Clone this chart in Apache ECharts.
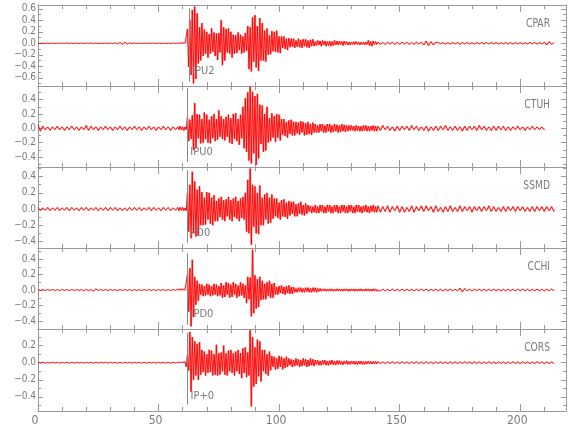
<!DOCTYPE html>
<html><head><meta charset="utf-8">
<script src="https://cdn.jsdelivr.net/npm/echarts@6/dist/echarts.min.js"></script>
<style>html,body{margin:0;padding:0;background:#fff}#c{width:580px;height:440px}</style>
</head><body><div id="c"></div>
<script>
// ---------- data ----------
const stations = ['CPAR','CTUH','SSMD','CCHI','CORS'];
const pickLabels = ['IPU2','IPU0','PD0','IPD0','IP+0'];
const pickTimes = [62.6, 61.9, 61.9, 62.0, 62.0];
const xMajorTicks = [0,50,100,150,200];
const xMinorTicks = [10,20,30,40,60,70,80,90,110,120,130,140,160,170,180,190,210];
const yRanges = [[-0.743,0.666],[-0.540,0.590],[-0.481,0.519],[-0.503,0.542],[-0.565,0.394]];
const yMajorTicks = [
  [-0.6,-0.4,-0.2,0,0.2,0.4,0.6],
  [-0.4,-0.2,0,0.2,0.4],
  [-0.4,-0.2,0,0.2,0.4],
  [-0.4,-0.2,0,0.2,0.4],
  [-0.4,-0.2,0,0.2]
];
const yMinorTicks = [
  [-0.7,-0.5,-0.3,-0.1,0.1,0.3,0.5],
  [-0.5,-0.3,-0.1,0.1,0.3,0.5],
  [-0.3,-0.1,0.1,0.3,0.5],
  [-0.3,-0.1,0.1,0.3,0.5],
  [-0.5,-0.3,-0.1,0.1,0.3]
];
// phase-pick line extents and label heights (data units)
const pickTop = [0.61,0.56,0.48,0.47,0.35];
const pickBottom = [-0.67,-0.47,-0.42,-0.45,-0.49];
const pickLabelY = [-0.49,-0.33,-0.30,-0.31,-0.386];

const preStart = 0, preStep = 1;      // 0 .. 57 s
const mainStart = 58, mainStep = 0.5; // 58 .. 140.5 s
const postStart = 141, postStep = 1;  // 141 .. end
// amplitudes in hundredths
const cparPre = [0.5,-0.5,0.4,-0.5,0.5,-0.4,0.5,-0.5,0.4,-0.5,
 0.5,-0.4,0.5,-0.5,0.4,-0.5,0.5,-0.4,0.5,-0.5,
 0.4,-0.5,0.5,-0.4,0.5,-0.5,0.4,-0.5,0.5,-0.4,
 0.5,-0.5,0.6,-0.8,1.5,-2,2,-1.5,0.8,-0.5,
 0.5,-0.4,0.5,-0.5,0.4,-0.5,0.5,-0.4,0.5,-0.5,
 0.4,-0.5,0.5,-0.4,0.5,-0.5,0.4,-0.5];
const cparMain = [0.5,-0.5,0.5,-1,0.5,-0.5,1,-1,
 25,-41,40,
 -55,58,-70,64,-62,52,
 -35,28,-30,35,-22,
 24,-18,20,-25,16,-18,26,-15,19,
 -22,17,-29,18,-16,
 40,-38,28,-30,
 25,-16,26,-18,20,-25,15,
 -18,14,-17,19,-12,15,-18,12,-16,18,-13,
 30,-45,28,-49,
 45,-32,49,-42,30,-48,44,-30,35,
 -30,22,-32,26,
 -20,14,-19,21,-14,20,-15,22,-16,12,-17,
 12,-8,12,-10,8,-12,9,-7,
 8,-6,8,-8,5,-6,8,-7,6,-8,7,-5,7,-7,5,-8,6,-5,7,
 -5,3,-4,5,-3,4,-5,5,-3,4,-5,3,-4,4,-5,3,-4,5,-3,4,-3,4,-2,3,-4,4,-2,3,
 -3,2,-3,2,-2,3,-2,3,-2,2,-3,2,-2,2,-3,2,-2,
 5,-4,3,-5,4,-2,3,-2];
const cparPost = [2,-2,1.5,-2,2,-1.5,2,-2,1.5,-2,2,-1.5,2,-2,1.5,-2,2,-1.5,2,
 -3,4,-4,3,-3,2,
 1.5,-1.2,1.4,-1.5,1.2,-1.4,1.5,-1.2,1.3,-1.5,1.2,-1.4,1.5,-1.3,1.2,-1.5,1.4,-1.2,1.5,-1.3,
 1.2,-1.4,1.5,-1.2,1.4,-1.5,1.2,-1.3,1.5,-1.4,1.2,-1.5,1.3,-1.2,1.4,-1.5,1.2,-1.3,1.5,-1.2,
 1.4,-1.5,1.2,-1.3,
 2,-3,3,-2,1];

const ctuhPre = [5,-4,3,-2,2,-3,2,-2,3,-2,
 2,-3,2,-2,3,-2,2,-3,2,-2,
 4,-3,3,-2,2,-3,2,-2,3,-2,
 2,-3,2,-2,3,-2,2,-3,2,-2,
 3,-2,2,-3,2,-2,3,-2,2,-3,
 2,-2,3,-2,2,-3,2,-2];
const ctuhMain = [2,-2,3,-2,2,-3,2,-2,
 15,-18,12,-15,18,
 -30,35,-28,
 20,-14,19,-21,13,-20,22,-15,19,-20,12,-21,17,-14,20,
 -18,13,-16,25,-12,17,-15,13,-17,16,-12,
 19,-20,14,-22,20,-15,21,-18,13,-23,19,-14,
 30,-28,42,-33,
 50,-45,58,-49,
 51,-35,45,-51,48,-42,
 33,-22,32,-33,20,-31,30,
 -20,14,-18,21,-13,17,-19,20,-13,19,-17,
 13,-9,13,-11,9,-13,11,-8,12,-10,9,
 -10,9,-7,8,-9,10,-6,9,-10,7,-9,9,-8,6,-9,8,-6,
 6,-6,4,-6,6,-4,6,-6,4,-6,6,-4,6,-6,4,-5,6,-4,5,-6,4,-5,6,-4,5,-5,4,
 -4,4,-3,4,-3,3,-4,4,-3,3,-4,3,-4,4,-3,4,-4,3,-4,3,-3,4,-4,3,-4];
const ctuhPost = [3,-3,4,-2,3,-3,2,-4,3,-3,
 3,-2,3,-3,4,-2,3,-3,2,-3,
 3,-4,2,-3,3,-3,3,-2,4,-3,
 2,-3,3,-3,2,-4,3,-3,3,-2,
 3,-3,4,-2,3,-3,2,-3,3,-3,
 3,-2,3,-3,2,-3,2,-2,3,-2,
 2,-3,2,-2,3,-2,2,-2,2,-2];

const ssmdPre = [2,-2,1.5,-1.5,2,-2,1.5,-1.5,2,-2,
 1.5,-1.5,2,-2,2,-1.5,1.5,-2,2,-1.5,
 2,-2,1.5,-1.5,2,-2,1.5,-1.5,2,-2,
 2,-1.5,2,-2,1.5,-2,1.5,-2,2,-1.5,
 2,-1.5,2,-2,1.5,-1.5,2,-2,2,-1.5,
 1.5,-2,2,-1.5,2,-2,1.5,-1.5];
const ssmdMain = [2,-2,2,-1.5,2,-2,1.5,-2,
 20,-28,30,
 -36,46,-30,
 34,-34,24,-32,28,-20,
 21,-20,14,-19,21,-13,20,-18,14,-20,17,
 -15,10,-15,13,-10,15,-13,11,-15,12,-9,15,-13,11,-15,13,-10,15,-12,10,-15,13,-11,15,-13,
 20,-28,36,
 -30,50,-44,
 30,-22,28,-30,20,-31,29,
 -20,14,-20,18,-13,20,-18,14,-17,18,-12,
 13,-9,13,-11,8,-13,11,-9,12,-10,8,-12,10,-8,
 9,-6,9,-9,6,-9,7,-6,9,-7,5,-8,7,-6,
 5,-3,4,-5,3,-4,5,-5,3,-5,5,-3,5,-5,3,-5,5,-3,5,-5,
 3,-5,5,-3,5,-5,3,-5,5,-3,5,-5,3,-5,5,-3,5,-5,3,-5,
 5,-3,5,-4,3,-5,4,-3,5,-4,3,-5,4,-3,5,-4,3,-4];
const ssmdPost = [4,-4,3,-3,4,-4,3,-2,4,-4,
 3,-4,2,-3,4,-4,3,-2,4,-3,
 4,-2,3,-4,4,-3,2,-4,3,-3,
 4,-3,2,-3,4,-3,3,-2,3,-4,
 3,-2,3,-3,3,-2,4,-3,3,-3,
 2,-3,3,-3,3,-2,3,-3,3,-2,
 3,-3,2,-3,3,-3,3,-2,3,-3,
 3,-2,3,-3];

const cchiPre = [0.6,-0.6,0.5,-0.6,0.6,-0.5,0.6,-0.6,0.5,-0.6,
 0.6,-0.6,0.5,-0.6,0.6,-0.5,0.6,-0.6,0.5,-0.6,
 0.6,-0.6,0.5,-1.5,1.5,-0.5,0.6,-0.6,0.5,-0.6,
 0.6,-0.6,0.5,-0.6,0.6,-0.5,0.6,-0.6,0.5,-0.6,
 0.6,-0.6,0.5,-0.6,0.6,-0.5,0.6,-0.6,0.5,-0.6,
 0.6,-0.5,0.6,-0.6,0.5,-0.6,0.6,-0.5];
const cchiMain = [1,-1,1,-1,1,-1,1,-1,
 20,-28,28,
 -47,39,-35,
 17,-19,12,-14,
 8,-6,7,-8,5,-7,8,-6,7,-8,5,-7,8,-6,7,-8,5,-7,
 9,-10,6,-9,10,-6,9,-10,7,-9,10,-6,8,-10,6,-8,10,-7,8,-10,6,
 -17,17,-12,16,
 -34,52,-30,
 19,-24,14,-22,17,-13,
 12,-12,8,-12,10,-8,12,-10,8,-10,9,
 -6,4,-6,5,-4,6,-5,4,-6,5,-4,6,-5,4,-5,4,
 -3,2,-3,3,-2,3,-3,2,-3,3,-2,3,-3,2,-3,3,-2,3,-3,2,-2,2,
 -1.5,1.5,-1.2,1.5,-1.5,1.2,-1.5,1.5,-1.2,1.5,-1.5,1.2,-1.5,1.5,-1.2,1.5,
 -1.5,1.2,-1.5,1.5,-1.2,1.5,-1.5,1.2,-1.5,1.5,-1.2,1.5,-1.5,1.2,-1.5,1.5,
 -1.2,1.5,-1.5,1.2,-1.5,1.5,-1.2,1.5,-1.5,1.2,-1.5,1.5,-1.2,1.5,-1.2];
const cchiPost = [1.2,-1,1,-1.2,1,-1,1.2,-1,1,-1.2,
 1,-1,1.2,-1,1,-1.2,1,-1,1.2,-1,
 1,-1.2,1,-1,1.2,-1,1,-1.2,1,-1,
 1.2,-1,1,-1.2,
 2.5,-2.5,2,
 -1,1,-1.2,1,-1,1.2,-1,1,-1.2,1,
 -1,1.2,-1,1,-1.2,1,-1,1.2,-1,1,
 -1.2,1,-1,1.2,-1,1,-1.2,1,-1,1.2,
 -1,1,-1.2,1,-1,1.2,-1];

const corsPre = [0.6,-0.5,0.5,-0.6,0.5,-0.5,0.6,-0.5,0.5,-0.6,
 0.6,-0.5,0.5,-0.6,0.5,-0.5,0.6,-0.5,0.5,-0.6,
 0.6,-0.5,0.5,-0.6,0.5,-0.5,0.6,-0.5,0.5,-0.6,
 0.6,-0.5,0.5,-0.6,0.5,-0.5,0.6,-0.5,0.5,-0.6,
 0.6,-0.5,0.5,-0.6,0.5,-0.5,0.6,-0.5,0.5,-0.6,
 0.5,-0.5,0.6,-0.5,0.5,-0.6,0.5,-0.5];
const corsMain = [0.5,-0.5,0.5,-0.5,0.5,-0.5,1,
 -5,9,-9,
 36,-34,30,
 -20,25,-15,22,-20,24,-14,
 15,-11,13,-15,10,-12,15,-11,14,-15,10,-14,21,-15,11,-14,12,-10,20,-14,11,-15,14,-10,15,-12,11,-15,13,-10,15,-13,11,
 -18,17,-12,18,-17,12,-15,
 38,-51,30,
 -28,18,-25,27,-16,25,-22,
 15,-10,15,-13,10,-15,13,-9,
 8,-5,7,-8,5,-7,8,-5,7,-8,5,-6,7,-5,
 5,-3,4,-5,3,-4,5,-3,4,-5,3,-4,5,-3,4,-5,3,-4,5,-3,4,-4,
 3,-2,3,-3,2,-3,3,-2,3,-3,
 2,-3,2.5,-2,3,-2.5,2,-2.5,2.5,-2,
 2.5,-2,1.5,-2.5,2,-1.5,2.5,-2,1.5,-2,
 2,-1.5,2,-2,1.5,-2,2,-1.5,2,-2,
 1.5,-2,1.5,-1.5,2,-1.5,1.5,-1.5,1.5,-1.5,
 1.5,-1.5];
const corsPost = [1.2,-1,1,-1.2,1,-1,1.2,-1,1,-1.2,
 1.2,-1,1,-1.2,1,-1,1.2,-1,1,-1.2,
 1.2,-1,1,-1.2,1,-1,1.2,-1,1,-1.2,
 1.2,-1,1,-1.2,1,-1,1.2,-1,1,-1.2,
 1.2,-1,1,-1.2,1,-1,1.2,-1,1,-1.2,
 1.2,-1,1,-1.2,1,-1,1.2,-1,1,-1.2,
 1.2,-1,1,-1.2,1,-1,1.2,-1,1,-1.2,
 1,-1,1,-1];

const traces = [
  [cparPre, cparMain, cparPost],
  [ctuhPre, ctuhMain, ctuhPost],
  [ssmdPre, ssmdMain, ssmdPost],
  [cchiPre, cchiMain, cchiPost],
  [corsPre, corsMain, corsPost]
];

// ---------- build ----------
function buildTrace(parts) {
  const pts = [];
  parts[0].forEach((v, i) => pts.push([preStart + i * preStep, v / 100]));
  parts[1].forEach((v, i) => pts.push([mainStart + i * mainStep, v / 100]));
  parts[2].forEach((v, i) => pts.push([postStart + i * postStep, v / 100]));
  return pts;
}

const axisColor = '#9a9a9a';
const textColor = '#7a7a7a';
const gridTops = [5, 86, 167, 248, 329];
const gridHeights = [81, 81, 81, 81, 82];
const X_MAX = 219;

const grid = gridTops.map((t, i) => ({left: 38, right: 14, top: t, height: gridHeights[i], show: false}));

const xAxis = [], yAxis = [], series = [];
function yFmt(v) { return (v < 0 ? '\u2212' : '') + Math.abs(v).toFixed(1); }

function stemItem(params, api) {
  const t = api.value(0), v = api.value(1);
  const p = api.coord([t, v]);
  const p0 = api.coord([t, 0]);
  const w = 2.4;
  return {
    type: 'rect',
    shape: {x: p[0] - w / 2, y: Math.min(p[1], p0[1]), width: w, height: Math.abs(p[1] - p0[1])},
    style: {fill: 'rgba(255,50,50,0.45)'}
  };
}

gridTops.forEach((t, g) => {
  [['bottom', true], ['bottom', false], ['top', true], ['top', false]].forEach(([pos, major]) => {
    xAxis.push({
      type: 'value', gridIndex: g, position: pos, min: 0, max: X_MAX,
      axisLine: {show: major, onZero: false, lineStyle: {color: axisColor, width: 1}},
      axisTick: {show: true, inside: true, length: major ? 7 : 4,
        customValues: major ? xMajorTicks : xMinorTicks, lineStyle: {color: axisColor}},
      axisLabel: {show: major && pos === 'bottom' && g === 4, customValues: xMajorTicks,
        color: textColor, fontFamily: 'Liberation Sans Narrow, DejaVu Sans Condensed, sans-serif',
        fontSize: 12, margin: 4, padding: [0, 6, 0, 0]},
      splitLine: {show: false}
    });
  });
  const [ymin, ymax] = yRanges[g];
  [['left', true], ['left', false], ['right', true], ['right', false]].forEach(([pos, major]) => {
    yAxis.push({
      type: 'value', gridIndex: g, position: pos, min: ymin, max: ymax,
      axisLine: {show: major, onZero: false, lineStyle: {color: axisColor, width: 1}},
      axisTick: {show: true, inside: true, length: major ? 5 : 3,
        customValues: major ? yMajorTicks[g] : yMinorTicks[g], lineStyle: {color: axisColor}},
      axisLabel: {show: major && pos === 'left', customValues: yMajorTicks[g], formatter: yFmt,
        color: textColor, fontFamily: 'DejaVu Sans Condensed, Liberation Sans Narrow, sans-serif',
        fontSize: 10, margin: 2},
      splitLine: {show: false}
    });
  });
  const data = buildTrace(traces[g]);
  // light fill under the densely sampled trace (same samples, drawn as stems)
  series.push({
    type: 'custom', name: stations[g] + ' fill', xAxisIndex: 4 * g, yAxisIndex: 4 * g,
    data: data, encode: {x: 0, y: 1}, renderItem: stemItem, clip: true,
    animation: false, silent: true, z: 1
  });
  series.push({
    type: 'line', name: stations[g], xAxisIndex: 4 * g, yAxisIndex: 4 * g,
    data: data, showSymbol: false, symbol: 'none',
    lineStyle: {color: '#ff0000', width: 0.9},
    itemStyle: {color: '#ff0000'},
    animation: false, silent: true, clip: true, z: 2,
    markLine: {
      silent: true, symbol: ['none', 'none'], label: {show: false}, animation: false,
      lineStyle: {color: '#8a8a8a', width: 1, type: 'solid'},
      data: [[{coord: [pickTimes[g], pickTop[g]]}, {coord: [pickTimes[g], pickBottom[g]]}]]
    },
    markPoint: {
      silent: true, animation: false, symbol: 'circle', symbolSize: 0,
      data: [{coord: [pickTimes[g] + 1.3, pickLabelY[g]], value: pickLabels[g]}],
      label: {show: true, position: 'right', distance: 0, formatter: pickLabels[g],
        color: textColor, fontSize: 11, fontFamily: 'Liberation Sans Narrow, DejaVu Sans Condensed, sans-serif'}
    }
  });
});

const graphic = stations.map((s, g) => ({
  type: 'text', x: 550, y: gridTops[g] + 19, scaleX: 0.85, silent: true,
  style: {text: s, fill: textColor, font: '12px "Liberation Sans Narrow", "DejaVu Sans Condensed", sans-serif',
    align: 'right', textAlign: 'right', verticalAlign: 'middle', textVerticalAlign: 'middle'}
}));

const chart = echarts.init(document.getElementById('c'), null, {renderer: 'canvas'});
chart.setOption({animation: false, backgroundColor: '#ffffff', grid, xAxis, yAxis, series, graphic});
</script>
</body></html>
